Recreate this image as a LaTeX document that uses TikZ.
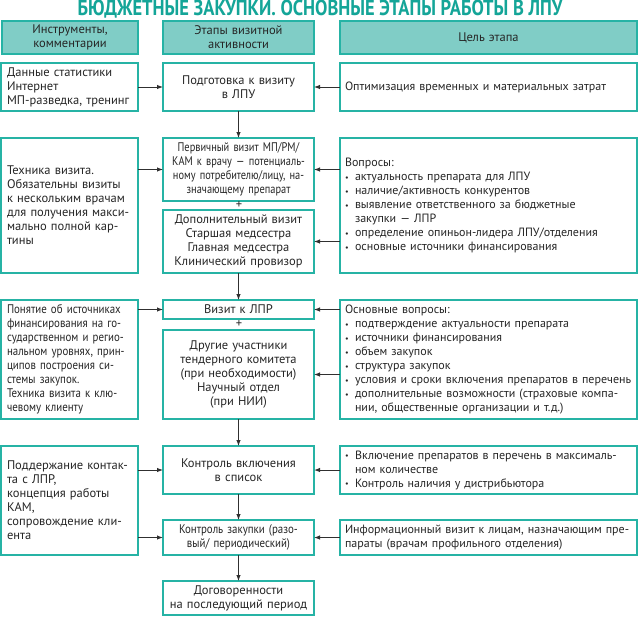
\documentclass[tikz,border=0pt]{standalone}
\usepackage{fontspec}
\setmainfont{PT Sans}
\newfontfamily\condfam[FakeStretch=0.87]{PT Sans}
\newfontfamily\narrfam[FakeStretch=0.83]{PT Sans}
\newfontfamily\titlefam[FakeStretch=0.85]{PT Sans}
\usetikzlibrary{arrows.meta}
\definecolor{tealline}{HTML}{26B3A5}
\definecolor{tealfill}{HTML}{80CDC6}
\definecolor{titlec}{HTML}{14A598}
\definecolor{txt}{HTML}{262626}
\definecolor{arrc}{HTML}{303030}
\newcommand{\bl}{\makebox[10pt][l]{\raisebox{0.3pt}{\footnotesize\textbullet}}}
\newcommand{\ind}{\hspace*{10pt}}
\newcommand{\lfont}{\fontsize{12.5}{14}\selectfont}
\newcommand{\rfont}{\fontsize{12}{14}\selectfont}
\newcommand{\bx}[9]{%
  \pgfmathsetmacro\bxW{#4-#2}\pgfmathsetmacro\bxH{#5-#3}\pgfmathsetmacro\bxT{#4-#2-2*#8}%
  \node[#6,anchor=north west,inner xsep=#8pt,minimum width=\bxW pt,minimum height=\bxH pt,text width=\bxT pt,align=#7] (#1) at (#2pt,-#3pt) {#9};}
\tikzset{
  box/.style={draw=tealline,line width=1.3pt,inner ysep=0pt,outer sep=0pt,font=\lfont,text=txt},
  rbox/.style={box,font=\rfont},
  hbox/.style={box,fill=tealfill},
  arr/.style={draw=arrc,line width=1pt,-{Latex[length=6pt,width=4.5pt]}},
  plus/.style={font=\lfont,text=txt,inner sep=0pt}
}
\begin{document}
\begin{tikzpicture}
\useasboundingbox (0,0) rectangle (640pt,-616pt);
\fill[white] (0,0) rectangle (640pt,-616pt);
\node[font=\titlefam\bfseries\fontsize{21.7}{22}\selectfont,text=titlec,inner sep=0pt] (title) at (320pt,-9pt) {БЮДЖЕТНЫЕ ЗАКУПКИ. ОСНОВНЫЕ ЭТАПЫ РАБОТЫ В ЛПУ};
% headers
\bx{h1}{2}{21}{138}{54}{hbox}{center}{3}{Инструменты,\\комментарии}
\bx{h2}{163}{21}{314}{54}{hbox}{center}{3}{Этапы визитной\\активности}
\bx{h3}{340}{21}{637}{54}{hbox}{center}{3}{Цель этапа}
% row 1
\bx{l1}{1}{63}{138}{111}{box}{left}{6}{Данные статистики\\Интернет\\МП-разведка, тренинг}
\bx{m1}{163}{63}{314}{111}{box}{center}{3}{Подготовка к визиту\\в ЛПУ}
\bx{r1}{340}{63}{637}{111}{rbox}{left}{5}{Оптимизация временных и материальных затрат}
% row 2
\bx{l2}{1}{138}{138}{273}{box}{left}{6}{Техника визита.\\Обязательны визиты\\к нескольким врачам\\для получения макси-\\мально полной кар-\\тины}
\bx{m2a}{163}{138}{314}{201}{box}{center}{3}{\narrfam Первичный визит МП/РМ/\\КАМ к врачу — потенциаль-\\ному потребителю/лицу, на-\\значающему препарат}
\node[plus] (p1) at (239pt,-205.5pt) {+};
\bx{m2b}{163}{210}{314}{273}{box}{center}{3}{Дополнительный визит\\Старшая медсестра\\Главная медсестра\\Клинический провизор}
\bx{r2}{340}{138}{637}{273}{rbox}{left}{5}{Вопросы:\\\bl актуальность препарата для ЛПУ\\\bl наличие/активность конкурентов\\\bl выявление ответственного за бюджетные\\\ind закупки — ЛПР\\\bl определение опиньон-лидера ЛПУ/отделения\\\bl основные источники финансирования}
% row 3
\bx{l3}{1}{300}{138}{419}{box}{left}{6}{\condfam Понятие об источниках\\финансирования на го-\\сударственном и регио-\\нальном уровнях, прин-\\ципов построения си-\\стемы закупок.\\Техника визита к клю-\\чевому клиенту}
\bx{m3a}{163}{300}{314}{319}{box}{center}{3}{Визит к ЛПР}
\node[plus] (p2) at (239pt,-324.5pt) {+};
\bx{m3b}{163}{330}{314}{419}{box}{center}{3}{Другие участники\\тендерного комитета\\(при необходимости)\\Научный отдел\\(при НИИ)}
\bx{r3}{340}{300}{637}{419}{rbox}{left}{5}{Основные вопросы:\\\bl подтверждение актуальности препарата\\\bl источники финансирования\\\bl объем закупок\\\bl структура закупок\\\bl условия и сроки включения препаратов в перечень\\\bl дополнительные возможности (страховые компа-\\\ind нии, общественные организации и т.д.)}
% row 4
\bx{l4}{1}{446}{138}{555}{box}{left}{6}{Поддержание контак-\\та с ЛПР,\\концепция работы\\КАМ,\\сопровождение кли-\\ента}
\bx{m4a}{163}{446}{314}{494}{box}{center}{3}{Контроль включения\\в список}
\bx{m4b}{163}{520}{314}{555}{box}{center}{3}{\condfam Контроль закупки (разо-\\вый/ периодический)}
\bx{r4a}{340}{446}{637}{494}{rbox}{left}{5}{\bl Включение препаратов в перечень в максималь-\\\ind ном количестве\\\bl Контроль наличия у дистрибьютора}
\bx{r4b}{340}{520}{637}{555}{rbox}{left}{5}{Информационный визит к лицам, назначающим пре-\\параты (врачам профильного отделения)}
\bx{m5}{163}{581}{314}{615}{box}{center}{3}{Договоренности\\на последующий период}
% arrows
\draw[arr] (l1.east |- m1) -- (m1.west);
\draw[arr] (r1.west |- m1) -- (m1.east);
\draw[arr] (m1.south) -- (m2a.north);
\draw[arr] (l2.east |- m2a) -- (m2a.west);
\draw[arr] (r2.west |- m2a) -- (m2a.east);
\draw[arr] (r2.west |- m2b) -- (m2b.east);
\draw[arr] (m2b.south) -- (m3a.north);
\draw[arr] (l3.east |- m3a) -- (m3a.west);
\draw[arr] (r3.west |- m3a) -- (m3a.east);
\draw[arr] (r3.west |- m3b) -- (m3b.east);
\draw[arr] (m3b.south) -- (m4a.north);
\draw[arr] (l4.east |- m4a) -- (m4a.west);
\draw[arr] (l4.east |- m4b) -- (m4b.west);
\draw[arr] (r4a.west |- m4a) -- (m4a.east);
\draw[arr] (r4b.west |- m4b) -- (m4b.east);
\draw[arr] (m4a.south) -- (m4b.north);
\draw[arr] (m4b.south) -- (m5.north);
\end{tikzpicture}
\end{document}
